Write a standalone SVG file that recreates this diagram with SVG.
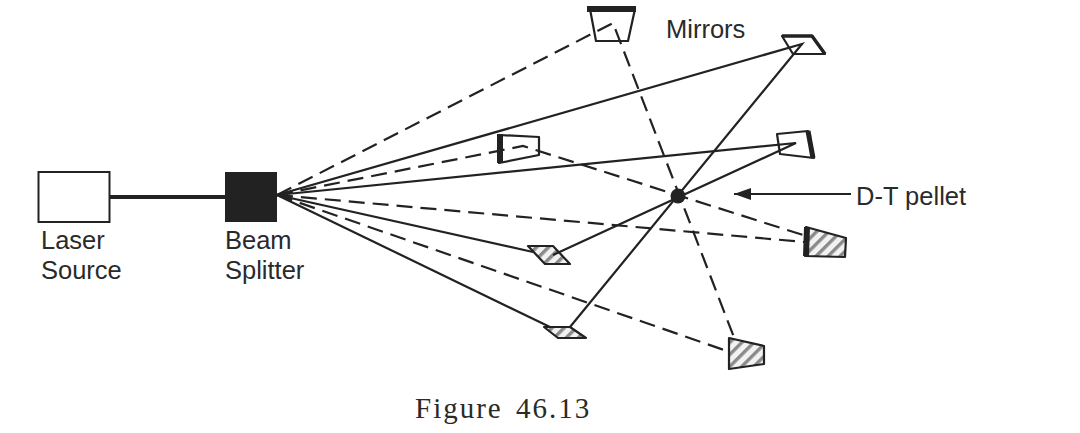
<svg xmlns="http://www.w3.org/2000/svg" width="1080" height="433" viewBox="0 0 1080 433">
<style>
.b{fill:#fff;stroke:#222;stroke-width:2.2;stroke-linejoin:round}
.h{fill:url(#hatch);stroke:#222;stroke-width:2.2;stroke-linejoin:round}
.t{fill:none;stroke:#222;stroke-width:6;stroke-linecap:butt}
.m{fill:none;stroke:#222;stroke-width:3.400;stroke-linejoin:round}
.s{fill:none;stroke:#222;stroke-width:2.2}
.d{fill:none;stroke:#222;stroke-width:2.2;stroke-dasharray:16 8}
text{font-family:"Liberation Sans",Arial,sans-serif;font-size:25.5px;fill:#2a2a2a}
</style>
<defs>
<pattern id="hatch" patternUnits="userSpaceOnUse" width="8.500" height="8.500" patternTransform="rotate(-45)">
<rect width="8.500" height="8.500" fill="#f2f2f2"/>
<rect width="8.500" height="3.400" fill="#8a8a8a"/>
</pattern>
<marker id="arr" markerUnits="userSpaceOnUse" markerWidth="20" markerHeight="14" refX="17" refY="6" orient="auto">
<path d="M17,6 L0,0 L0,12 Z" fill="#222"/>
</marker>
</defs>
<g id="mirror-top"><path class="b" d="M590,9 L635,9 L628,41 L596,41 Z"/><path class="t" d="M587,9 L636,9"/></g>
<g id="mirror-upper-right"><path class="b" d="M782,36 L812,36 L825,54 L793,54 Z"/><path class="m" d="M782,36 L812,36 L825,54"/></g>
<g id="mirror-left"><path class="b" d="M499,135 L539,137 L539,155 L499,163 Z"/><path class="t" d="M500,134 L500,163"/></g>
<g id="mirror-right"><path class="b" d="M777,134 L808,131 L814,158 L780,154 Z"/><path class="t" stroke-width="5" style="stroke-width:5" d="M808,131 L813,158"/></g>
<g id="mirror-hatched-right"><path class="h" d="M806,227 L846,238 L845,257 L805,256 Z"/><path class="t" d="M807,227 L806,256"/></g>
<g id="mirror-hatched-bottom"><path class="h" d="M729,338 L764,346 L764,364 L729,369 Z"/></g>
<g id="mirror-hatched-mid"><path class="h" d="M528,246 L553,246 L570,264 L545,264 Z"/></g>
<g id="mirror-hatched-low"><path class="h" d="M544,327 L570,327 L586,338 L558,338 Z"/></g>
<g id="connectors">
<path d="M110,197 L225,197" fill="none" stroke="#222" stroke-width="4"/>
<path class="d" d="M277,195 L613,23 L735,340"/>
<path class="d" d="M277,195 L523,146 L803,235"/>
<path class="s" d="M277,195 L802,44 L570,327"/>
<path class="s" d="M277,195 L796,143 L553,255"/>
<path class="d" d="M277,195 L804,242"/>
<path class="d" d="M277,195 L727,351"/>
<path class="s" d="M277,195 L533,252"/>
<path class="s" d="M277,195 L550,327"/>
<path class="s" d="M851,194 L734,194" marker-end="url(#arr)"/>
</g>
<g id="laser-source"><rect x="38.500" y="172" width="71" height="50" fill="#fff" stroke="#222" stroke-width="2"/><text x="41" y="249">Laser</text><text x="41" y="279">Source</text></g>
<g id="beam-splitter"><rect x="225" y="172" width="52" height="50" fill="#222"/><text x="225" y="249">Beam</text><text x="225" y="279">Splitter</text></g>
<g id="pellet"><circle cx="678" cy="196" r="7.500" fill="#222"/></g>
<text x="666" y="38">Mirrors</text>
<text x="856" y="205">D-T pellet</text>
<text x="415" y="418" style="font-family:'Liberation Serif','Times New Roman',serif;font-size:29px;letter-spacing:2px;word-spacing:4px">Figure 46.13</text>
</svg>
